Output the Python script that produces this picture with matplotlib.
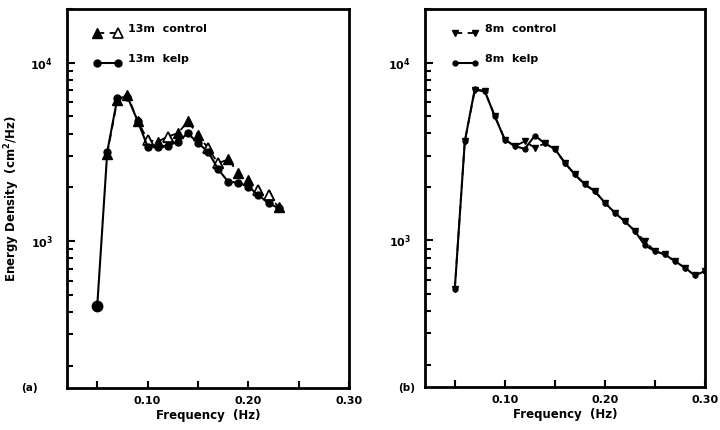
import matplotlib.pyplot as plt
from matplotlib.ticker import MultipleLocator, LogLocator, NullFormatter

# frequency bins (Hz)
freq_a_kelp = [0.05, 0.06, 0.07, 0.08, 0.09, 0.10, 0.11, 0.12, 0.13, 0.14,
               0.15, 0.16, 0.17, 0.18, 0.19, 0.20, 0.21, 0.22, 0.23]
freq_a_ctrl = freq_a_kelp[1:]
freq_b = [0.05, 0.06, 0.07, 0.08, 0.09, 0.10, 0.11, 0.12, 0.13, 0.14, 0.15,
          0.16, 0.17, 0.18, 0.19, 0.20, 0.21, 0.22, 0.23, 0.24, 0.25, 0.26,
          0.27, 0.28, 0.29, 0.30]

# energy density (cm^2/Hz)
kelp_13m = [430, 3180, 6330, 6450, 4740, 3390, 3390, 3430, 3610, 4030,
            3540, 3180, 2530, 2150, 2130, 2020, 1810, 1630, 1530]
ctrl_13m = [3100, 6200, 6600, 4740, 3690, 3610, 3860, 4030, 4690,
            3940, 3320, 2730, 2880, 2400, 2200, 1940, 1810, 1550]
# which control triangles are drawn open
ctrl_13m_open = [False, False, False, False, True, False, True, False, False,
                 False, True, True, False, False, False, True, True, False]

kelp_8m = [535, 3610, 7110, 6900, 4990, 3690, 3390, 3270, 3890, 3510, 3270,
           2730, 2350, 2065, 1890, 1630, 1430, 1280, 1130, 937, 871, 834,
           765, 702, 636, 672]
ctrl_8m = [535, 3610, 7000, 6900, 4990, 3690, 3390, 3610, 3320, 3510, 3270,
           2730, 2350, 2065, 1890, 1630, 1430, 1280, 1130, 990, 871, 834,
           765, 702, 636, 672]

plt.rcParams['font.family'] = 'DejaVu Sans'
plt.rcParams['font.weight'] = 'bold'
plt.rcParams['mathtext.default'] = 'bf'

fig = plt.figure(figsize=(7.2, 4.3), dpi=100)
ax1 = fig.add_axes([0.093, 0.0977, 0.392, 0.881])
ax2 = fig.add_axes([0.590, 0.100, 0.389, 0.879])


def style(ax):
    ax.set_yscale('log')
    ax.set_xlim(0.02, 0.30)
    ax.set_ylim(150, 20000)
    ax.xaxis.set_major_locator(MultipleLocator(0.10))
    ax.xaxis.set_minor_locator(MultipleLocator(0.05))
    ax.xaxis.set_major_formatter(plt.FuncFormatter(lambda v, p: f"{v:.2f}"))
    ax.yaxis.set_major_locator(LogLocator(base=10))
    ax.yaxis.set_minor_locator(LogLocator(base=10, subs=range(2, 10)))
    ax.yaxis.set_minor_formatter(NullFormatter())
    ax.tick_params(which='both', direction='in', top=False, right=False,
                   width=1.5, labelsize=8)
    ax.tick_params(axis='x', which='both', length=5, pad=6)
    ax.tick_params(axis='y', which='major', length=6, pad=10)
    ax.tick_params(axis='y', which='minor', length=4)
    for s in ax.spines.values():
        s.set_linewidth(2)
    ax.set_xlabel("Frequency  (Hz)", fontsize=8.5, fontweight='bold', labelpad=2)


style(ax1)
style(ax2)

# (a) 13m
ax1.plot(freq_a_ctrl, ctrl_13m, ls=(0, (4, 3)), color='black', lw=1.3,
         marker='^', ms=6.5, mfc='black', mec='black')
ax1.plot([f for f, o in zip(freq_a_ctrl, ctrl_13m_open) if o],
         [v for v, o in zip(ctrl_13m, ctrl_13m_open) if o],
         ls='none', marker='^', ms=6.5, mfc='white', mec='black', mew=1.2)
ax1.plot(freq_a_kelp, kelp_13m, ls='-', color='black', lw=1.5,
         marker='o', ms=5, mfc='black', mec='black')
ax1.plot(freq_a_kelp[:1], kelp_13m[:1], ls='none', marker='o', ms=7.5,
         color='black')

# legend (a), drawn by hand: filled triangle - - open triangle
ax1.plot([0.107, 0.18], [0.937, 0.937], transform=ax1.transAxes,
         ls=(0, (4, 3)), color='black', lw=1.3)
ax1.plot([0.107], [0.937], transform=ax1.transAxes, marker='^', ms=6.5,
         color='black')
ax1.plot([0.18], [0.937], transform=ax1.transAxes, marker='^', ms=6.5,
         mfc='white', mec='black', mew=1.2)
ax1.text(0.215, 0.948, "13m  control", transform=ax1.transAxes,
         fontsize=8, fontweight='bold', va='center')
ax1.plot([0.107, 0.18], [0.857, 0.857], transform=ax1.transAxes,
         ls='-', color='black', lw=1.5, marker='o', ms=5)
ax1.text(0.215, 0.868, "13m  kelp", transform=ax1.transAxes,
         fontsize=8, fontweight='bold', va='center')

ax1.set_ylabel("Energy Density  (cm$^2$/Hz)", fontsize=8.5,
               fontweight='bold', labelpad=6)

# (b) 8m
ax2.plot(freq_b, ctrl_8m, ls=(0, (4, 3)), color='black', lw=1.3,
         marker='v', ms=4, mfc='black', mec='black')
ax2.plot(freq_b, kelp_8m, ls='-', color='black', lw=1.5,
         marker='o', ms=3.5, mfc='black', mec='black')

ax2.plot([0.107, 0.18], [0.937, 0.937], transform=ax2.transAxes,
         ls=(0, (4, 3)), color='black', lw=1.3, marker='v', ms=4)
ax2.text(0.215, 0.948, "8m  control", transform=ax2.transAxes,
         fontsize=8, fontweight='bold', va='center')
ax2.plot([0.107, 0.18], [0.857, 0.857], transform=ax2.transAxes,
         ls='-', color='black', lw=1.5, marker='o', ms=3.5)
ax2.text(0.215, 0.868, "8m  kelp", transform=ax2.transAxes,
         fontsize=8, fontweight='bold', va='center')

fig.text(0.03, 0.098, "(a)", fontsize=7.5, fontweight='bold', va='center')
fig.text(0.553, 0.098, "(b)", fontsize=7.5, fontweight='bold', va='center')

fig.savefig("out.png", dpi=100)
